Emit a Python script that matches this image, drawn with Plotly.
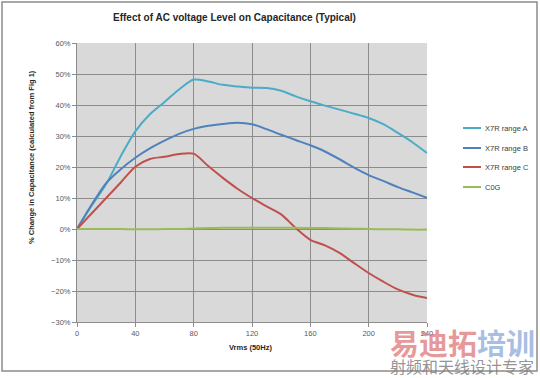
import plotly.graph_objects as go

# ---- data ----
vrms = [0, 10, 20, 30, 40, 50, 60, 70, 80, 90, 100, 110, 120, 130, 140, 150, 160, 170, 180, 190, 200, 210, 220, 230, 240]
x7r_a = [0, 7.5, 14.5, 23.5, 31.5, 37, 41, 45, 48.2, 47.6, 46.5, 46, 45.6, 45.5, 44.6, 42.8, 41.2, 39.8, 38.5, 37.2, 35.8, 33.8, 31, 28, 24.5]
x7r_b = [0, 7.8, 14.8, 19.3, 23, 26, 28.5, 30.7, 32.3, 33.3, 33.9, 34.3, 33.8, 32.2, 30.4, 28.7, 27, 25, 22.5, 19.8, 17.4, 15.5, 13.5, 11.8, 10.1]
x7r_c = [0, 5, 10, 15, 20.1, 22.6, 23.3, 24.2, 24.3, 20.3, 16.5, 13, 10, 7.3, 4.7, 0.3, -3.5, -5.3, -7.7, -11, -14.2, -17, -19.5, -21.2, -22.3]
c0g = [0, 0, 0, 0, -0.1, -0.1, 0, 0, 0.2, 0.3, 0.4, 0.4, 0.4, 0.4, 0.4, 0.4, 0.3, 0.3, 0.2, 0.1, 0, -0.1, -0.1, -0.2, -0.2]

series_names = ["X7R range A", "X7R range B", "X7R range C", "C0G"]
series_values = [x7r_a, x7r_b, x7r_c, c0g]
series_colors = ["#4BACC6", "#4F81BD", "#C0504D", "#9BBB59"]

x_ticks = [0, 40, 80, 120, 160, 200, 240]
y_ticks = [-0.3, -0.2, -0.1, 0, 0.1, 0.2, 0.3, 0.4, 0.5, 0.6]

title_text = "Effect of AC voltage Level on Capacitance (Typical)"
x_title = "Vrms (50Hz)"
y_title = "% Change in Capacitance (calculated from Fig 1)"

# ---- layout geometry (pixels) ----
W, H = 540, 378
L, R, T, B = 77, 427, 43, 322
pw, ph = R - L, B - T

def px(x):
    return (x - L) / pw

def py(y):
    return (B - y) / ph

FONT = "Liberation Sans"
fig = go.Figure()

for name, vals, col in zip(series_names, series_values, series_colors):
    fig.add_trace(go.Scatter(
        x=vrms, y=[v / 100 for v in vals], mode="lines", name=name,
        line=dict(color=col, width=2, shape="spline", smoothing=0.8),
        showlegend=False, hoverinfo="skip",
    ))

shapes = []
annotations = []

# outer chart border
shapes.append(dict(type="rect", xref="paper", yref="paper",
                   x0=px(2), x1=px(537), y0=py(371), y1=py(2),
                   line=dict(color="#8C8C8C", width=1.5), fillcolor="rgba(0,0,0,0)", layer="below"))

# manual legend
leg_y = [128, 148, 167, 187]
for name, col, yy in zip(series_names, series_colors, leg_y):
    shapes.append(dict(type="line", xref="paper", yref="paper",
                       x0=px(463), x1=px(481), y0=py(yy), y1=py(yy),
                       line=dict(color=col, width=2)))
    annotations.append(dict(text=name, xref="paper", yref="paper", x=px(483), y=py(yy),
                            xanchor="left", yanchor="middle", showarrow=False,
                            font=dict(family=FONT, size=7.5, color="#404040")))

# titles
annotations.append(dict(text="<b>" + title_text + "</b>", xref="paper", yref="paper",
                        x=px(234), y=py(18), xanchor="center", yanchor="middle", showarrow=False,
                        font=dict(family=FONT, size=10, color="#262626")))
annotations.append(dict(text="<b>" + x_title + "</b>", xref="paper", yref="paper",
                        x=px(250), y=py(347), xanchor="center", yanchor="middle", showarrow=False,
                        font=dict(family=FONT, size=7.5, color="#262626")))
annotations.append(dict(text="<b>" + y_title + "</b>", xref="paper", yref="paper",
                        x=px(31), y=py(157), xanchor="center", yanchor="middle", showarrow=False,
                        textangle=-90, font=dict(family=FONT, size=7.5, color="#262626")))

# watermark
annotations.append(dict(text='<b><span style="color:rgba(224,120,120,0.75)">易迪拓</span>'
                             '<span style="color:rgba(140,170,220,0.75)">培训</span></b>',
                        xref="paper", yref="paper", x=px(462), y=py(342),
                        xanchor="center", yanchor="middle", showarrow=False,
                        font=dict(family="Noto Sans CJK SC", size=29)))
annotations.append(dict(text="射频和天线设计专家", xref="paper", yref="paper", x=px(462), y=py(366),
                        xanchor="center", yanchor="middle", showarrow=False,
                        font=dict(family="Noto Sans CJK SC", size=16, color="rgba(120,120,120,0.8)")))

fig.update_layout(
    width=W, height=H,
    margin=dict(l=L, r=W - R, t=T, b=H - B),
    paper_bgcolor="white", plot_bgcolor="#D9D9D9",
    shapes=shapes, annotations=annotations, showlegend=False,
    font=dict(family=FONT, size=7.5, color="#595959"),
)
fig.update_xaxes(range=[0, 240], tickvals=x_ticks, ticktext=[str(v) for v in x_ticks],
                 showgrid=True, gridcolor="#8C8C8C", gridwidth=1,
                 showline=True, linecolor="#8C8C8C", linewidth=1,
                 ticks="outside", ticklen=4, tickcolor="#8C8C8C",
                 zeroline=False, tickfont=dict(family=FONT, size=7.5, color="#595959"))
fig.update_yaxes(range=[-0.3, 0.6], tickvals=y_ticks, tickformat=".0%",
                 showgrid=True, gridcolor="#8C8C8C", gridwidth=1,
                 showline=True, linecolor="#8C8C8C", linewidth=1,
                 ticks="outside", ticklen=4, tickcolor="#8C8C8C",
                 zeroline=False, tickfont=dict(family=FONT, size=7.5, color="#595959"))

fig.write_html("out.html", config={"displayModeBar": False},
               post_script="document.body.style.margin='0';document.body.style.overflow='hidden';")
